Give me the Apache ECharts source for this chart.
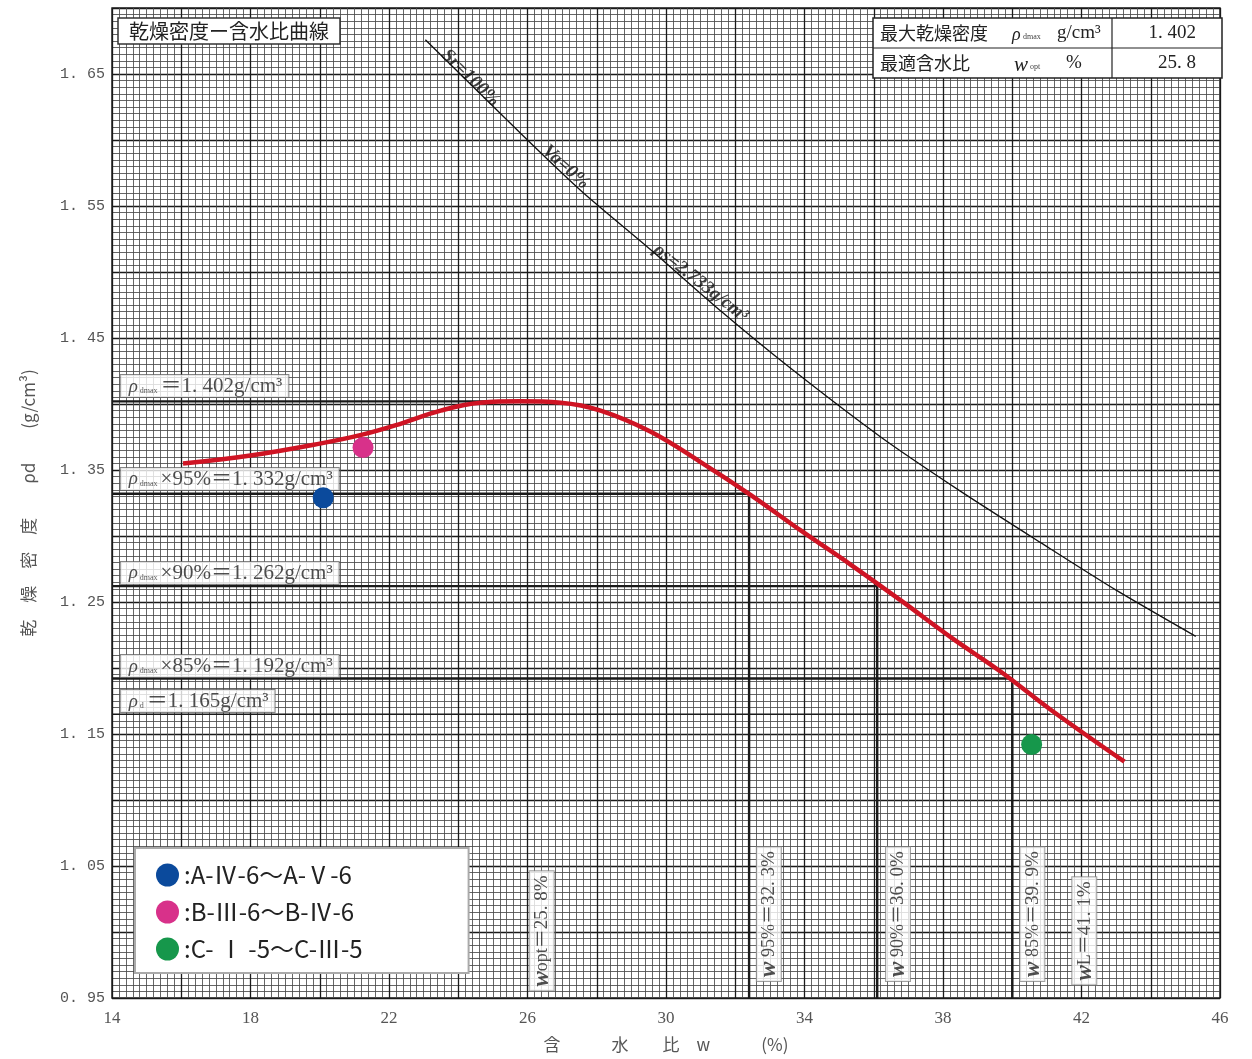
<!DOCTYPE html>
<html><head><meta charset="utf-8">
<script src="https://cdn.jsdelivr.net/npm/echarts@6/dist/echarts.min.js"></script>
<style>html,body{margin:0;padding:0;background:#fff}#c{width:1252px;height:1059px}</style>
</head><body><div id="c"></div>
<script>
// Compaction curve (water content %, dry density g/cm3)
const curveW   = [16.05, 18.0, 20.0, 21.26, 22.33, 23.49, 24.64, 25.8, 26.96, 28.11, 29.56, 31.0, 32.45, 33.9, 35.35, 36.79, 38.24, 39.68, 41.13, 43.24];
const curveRho = [1.355, 1.361, 1.370, 1.377, 1.385, 1.395, 1.401, 1.402, 1.401, 1.395, 1.379, 1.356, 1.331, 1.304, 1.278, 1.251, 1.223, 1.197, 1.168, 1.129];
// Zero air voids curve (Sr=100%)
const zavW   = [23.05, 25.88, 27.61, 29.55, 31.6, 33.6, 36.2, 38.5, 40.82, 43.0, 45.3];
const zavRho = [1.676, 1.603, 1.560, 1.517, 1.470, 1.427, 1.375, 1.334, 1.295, 1.259, 1.224];
// Test points
const pointNames = [':A-Ⅳ-6～A-Ⅴ-6', ':B-Ⅲ-6～B-Ⅳ-6', ':C- Ⅰ -5～C-Ⅲ-5'];
const pointW   = [20.1, 21.25, 40.56];
const pointRho = [1.329, 1.367, 1.142];
const pointColors = ['#0b4a9c', '#d8318a', '#16974b'];
// Reference levels
const refRho  = [1.402, 1.332, 1.262, 1.192, 1.165];
const refHEnd = [26.8, 32.4, 36.1, 40.0, 41.1];
const refVW   = [32.4, 36.1, 40.0];
const refVRho = [1.332, 1.262, 1.192];
// Horizontal annotation boxes
const hLabelTexts = ['＝1. 402g/cm³', '×95%＝1. 332g/cm³', '×90%＝1. 262g/cm³', '×85%＝1. 192g/cm³', '＝1. 165g/cm³'];
const hLabelSubs  = ['dmax', 'dmax', 'dmax', 'dmax', 'd'];
const hLabelW   = [14.25, 14.25, 14.25, 14.25, 14.25];
const hLabelRho = [1.4136, 1.3432, 1.272, 1.2015, 1.175];
// Vertical annotation boxes
const vLabelSubs  = ['opt', ' 95%', ' 90%', ' 85%', 'L'];
const vLabelTexts = ['＝25. 8%', '＝32. 3%', '＝36. 0%', '＝39. 9%', '＝41. 1%'];
const vLabelW   = [26.41, 32.97, 36.70, 40.58, 42.08];
const vLabelRho = [1.0008, 1.0136, 1.0136, 1.0136, 1.0008];
// Labels along the saturation line
const zavLabelTexts = ['Sr=100%', 'Va=0%', 'ρs=2.733g/cm³'];
const zavLabelW   = [24.35, 27.10, 31.0];
const zavLabelRho = [1.647, 1.5795, 1.4917];
const zavLabelRot = [-44, -42, -38];
// Table
const tableRows = [['最大乾燥密度', 'ρ', 'dmax', 'g/cm³', '1. 402'], ['最適含水比', 'w', 'opt', '%', '25. 8']];

const serif = "'Liberation Serif','DejaVu Serif','Noto Sans CJK JP',serif";
const cjk = "'Noto Sans CJK JP','Noto Sans',sans-serif";

const series = [];
refRho.forEach((r, i) => {
  series.push({type: 'line', silent: true, symbol: 'none', z: 3,
    data: [[14, r], [refHEnd[i], r]],
    lineStyle: {color: '#1a1a1a', width: i === 4 ? 1.6 : 2.4}});
});
refVW.forEach((w, i) => {
  series.push({type: 'line', silent: true, symbol: 'none', z: 3,
    data: [[w, refVRho[i]], [w, 0.95]],
    lineStyle: {color: '#1a1a1a', width: 2.4}});
});
series.push({type: 'line', silent: true, symbol: 'none', smooth: 0.25, z: 4,
  data: zavW.map((w, i) => [w, zavRho[i]]),
  lineStyle: {color: '#111', width: 1.3}});
series.push({type: 'line', silent: true, symbol: 'none', smooth: 0.4, z: 5,
  data: curveW.map((w, i) => [w, curveRho[i]]),
  lineStyle: {color: '#cf1424', width: 4.5}});
pointNames.forEach((n, i) => {
  series.push({type: 'scatter', name: n, z: 8, symbolSize: 21,
    itemStyle: {color: pointColors[i], opacity: 1},
    data: [[pointW[i], pointRho[i]]]});
});
series.push({type: 'scatter', silent: true, z: 6, symbolSize: 0.1,
  itemStyle: {color: 'rgba(0,0,0,0)'},
  data: hLabelW.map((w, i) => [w, hLabelRho[i]]),
  label: {show: true, position: 'right', distance: 0,
    backgroundColor: '#fff', borderColor: '#666', borderWidth: 1, padding: [1, 6, 0, 8],
    formatter: p => '{r|ρ}{s|' + hLabelSubs[p.dataIndex] + '}{t|' + hLabelTexts[p.dataIndex] + '}',
    rich: {
      r: {fontFamily: serif, fontStyle: 'italic', fontSize: 19, color: '#222'},
      s: {fontFamily: serif, fontSize: 8, color: '#333', padding: [8, 3, 0, 2]},
      t: {fontFamily: serif, fontSize: 21, color: '#222'}
    }}});
series.push({type: 'scatter', silent: true, z: 6, symbolSize: 0.1,
  itemStyle: {color: 'rgba(0,0,0,0)'},
  data: vLabelW.map((w, i) => [w, vLabelRho[i]]),
  label: {show: true, position: 'inside', rotate: 90,
    backgroundColor: '#fff', borderColor: '#888', borderWidth: 1, padding: [1, 4, 0, 4],
    formatter: p => '{w|w}{s|' + vLabelSubs[p.dataIndex] + '}{t|' + vLabelTexts[p.dataIndex] + '}',
    rich: {
      w: {fontFamily: serif, fontStyle: 'italic', fontWeight: 'bold', fontSize: 23, color: '#222'},
      s: {fontFamily: serif, fontSize: 18, color: '#222'},
      t: {fontFamily: serif, fontSize: 19, color: '#222'}
    }}});
series.push({type: 'scatter', silent: true, z: 6, symbolSize: 0.1,
  itemStyle: {color: 'rgba(0,0,0,0)'},
  data: zavLabelW.map((w, i) => ({value: [w, zavLabelRho[i]], label: {rotate: zavLabelRot[i]}})),
  label: {show: true, position: 'inside',
    formatter: p => zavLabelTexts[p.dataIndex],
    fontFamily: serif, fontStyle: 'italic', fontWeight: 'bold', fontSize: 19, color: '#111'}});

const graphic = [
  {type: 'rect', shape: {x: 873, y: 18, width: 349, height: 60}, style: {fill: '#fff', stroke: '#222', lineWidth: 1.5}, z: 100},
  {type: 'line', shape: {x1: 873, y1: 48, x2: 1222, y2: 48}, style: {stroke: '#222', lineWidth: 1.2}, z: 101},
  {type: 'line', shape: {x1: 1112, y1: 18, x2: 1112, y2: 78}, style: {stroke: '#222', lineWidth: 1.2}, z: 101}
];
tableRows.forEach((row, i) => {
  const cy = 33 + i * 30;
  graphic.push({type: 'text', x: 880, y: cy, z: 102, style: {text: row[0], font: '18px ' + cjk, fill: '#222', verticalAlign: 'middle'}});
  graphic.push({type: 'text', x: i === 0 ? 1012 : 1014, y: cy + 2, z: 102, style: {text: row[1], font: 'italic ' + (i === 0 ? 18 : 21) + 'px ' + serif, fill: '#222', verticalAlign: 'middle'}});
  graphic.push({type: 'text', x: i === 0 ? 1023 : 1030, y: cy + 4, z: 102, style: {text: row[2], font: '8px ' + serif, fill: '#444', verticalAlign: 'middle'}});
  graphic.push({type: 'text', x: i === 0 ? 1057 : 1066, y: cy, z: 102, style: {text: row[3], font: '19px ' + serif, fill: '#222', verticalAlign: 'middle'}});
  graphic.push({type: 'text', x: 1196, y: cy, z: 102, style: {text: row[4], font: '19px ' + serif, fill: '#222', verticalAlign: 'middle', align: 'right'}});
});

const chart = echarts.init(document.getElementById('c'), null, {renderer: 'canvas'});
chart.setOption({
  animation: false,
  backgroundColor: '#fff',
  title: {text: '乾燥密度ー含水比曲線', left: 118, top: 18, padding: [3, 11, 3, 11],
    backgroundColor: '#fff', borderColor: '#333', borderWidth: 1.5,
    textStyle: {fontFamily: cjk, fontSize: 20, fontWeight: 'normal', color: '#222'}},
  legend: {data: pointNames, orient: 'vertical', left: 135, top: 848, icon: 'circle',
    itemWidth: 23, itemHeight: 23, itemGap: 13,
    backgroundColor: '#fff', borderColor: '#aaa', borderWidth: 2, padding: [15, 106, 12, 21],
    textStyle: {fontFamily: cjk, fontSize: 24, color: '#222'}},
  grid: {left: 112, right: 32, top: 8, bottom: 61, show: true, borderColor: '#222', borderWidth: 1.5, backgroundColor: '#fff'},
  xAxis: {type: 'value', min: 14, max: 46, interval: 2,
    name: '含　　　水　　比　w　　　(%)', nameLocation: 'middle', nameGap: 38,
    nameTextStyle: {fontFamily: cjk, fontSize: 17, color: '#555'},
    axisLine: {show: false}, axisTick: {show: false},
    axisLabel: {interval: 1, margin: 12, fontFamily: serif, fontSize: 17, color: '#555',
      formatter: v => (Math.round(v) % 4 === 2) ? String(Math.round(v)) : ''},
    splitLine: {show: true, lineStyle: {color: '#1a1a1a', width: 1.3}},
    minorTick: {show: false, splitNumber: 10},
    minorSplitLine: {show: true, lineStyle: {color: '#4a4a4a', width: 0.85}}},
  yAxis: {type: 'value', min: 0.95, max: 1.70, interval: 0.05,
    name: '乾　燥　密　度　　ρd　　(g/cm³)', nameLocation: 'middle', nameGap: 75, nameRotate: 90,
    nameTextStyle: {fontFamily: cjk, fontSize: 17, color: '#555'},
    axisLine: {show: false}, axisTick: {show: false},
    axisLabel: {margin: 7, fontFamily: "'Liberation Mono','DejaVu Sans Mono',monospace", fontSize: 15, color: '#555',
      formatter: v => { const k = Math.round((v - 0.95) / 0.05); return k % 2 === 0 ? v.toFixed(2).replace('.', '. ') : ''; }},
    splitLine: {show: true, lineStyle: {color: '#1a1a1a', width: 1.3}},
    minorTick: {show: false, splitNumber: 10},
    minorSplitLine: {show: true, lineStyle: {color: '#4a4a4a', width: 0.85}}},
  series: series,
  graphic: graphic
});
</script></body></html>
